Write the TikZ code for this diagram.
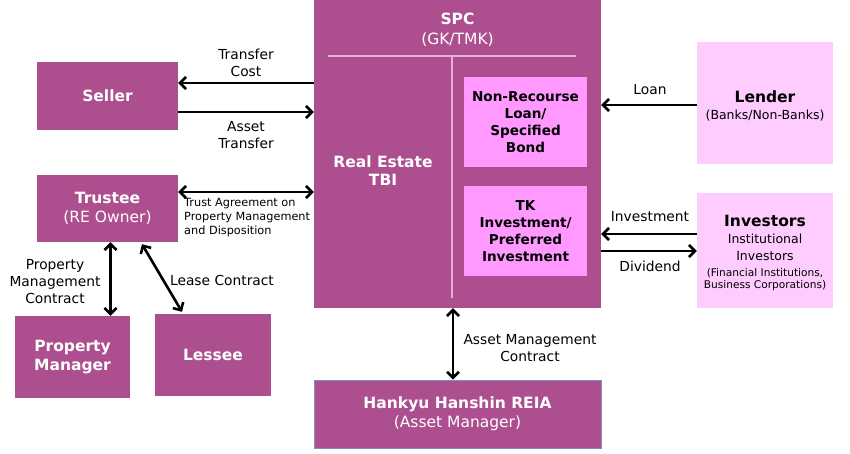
\documentclass[tikz,border=0pt]{standalone}
\usepackage{fontspec}
\setmainfont{DejaVu Sans}
\usetikzlibrary{arrows.meta}
\newcommand{\fsz}[2]{\fontsize{#1}{#2}\selectfont}
\definecolor{plum}{HTML}{AD4F8F}
\definecolor{mag}{HTML}{FF99FF}
\definecolor{pinkl}{HTML}{FFCCFF}
\definecolor{divl}{HTML}{E3B0D3}
\definecolor{hkborder}{HTML}{7F8FC0}
\begin{document}
\begin{tikzpicture}[x=1pt,y=1pt,
  box/.style={rectangle, fill=plum, text=white, inner sep=0pt, align=center, font=\fsz{15.5}{19}},
  lbox/.style={box, fill=mag, text=black, font=\bfseries\fsz{13.6}{17}, minimum width=123pt, minimum height=90pt},
  pbox/.style={box, fill=pinkl, text=black, minimum width=136pt},
  lab/.style={align=center, font=\fsz{13.8}{17}, inner sep=0pt},
  >={Straight Barb[length=6pt,width=12pt]},
  conn/.style={line width=2.6pt}]
\useasboundingbox (0,0) rectangle (850,-454);

% boxes
\node[box, minimum width=141pt, minimum height=68pt] (seller) at (107.5,-96) {\textbf{Seller}};
\node[box, minimum width=141pt, minimum height=67pt] (trustee) at (107.5,-208.5) {\textbf{Trustee}\\(RE Owner)};
\node[box, minimum width=287pt, minimum height=308pt] (spc) at (457.5,-154) {};
\node[box, minimum width=115pt, minimum height=82pt] (pm) at (72.5,-357) {\textbf{Property}\\\textbf{Manager}};
\node[box, minimum width=116pt, minimum height=82pt] (lessee) at (213,-355) {\textbf{Lessee}};
\node[box, draw=hkborder, line width=0.8pt, minimum width=287pt, minimum height=68pt] (hankyu) at (457.5,-414) {\textbf{Hankyu Hanshin REIA}\\(Asset Manager)};

% inside SPC
\node[text=white, align=center, font=\fsz{15.5}{20}, inner sep=0pt] (spct) at (457.5,-30) {\textbf{SPC}\\(GK/TMK)};
\draw[divl, line width=1.2pt] (328,-56) -- (576,-56);
\draw[divl, line width=1.2pt] (452,-56) -- (452,-298);
\node[text=white, align=center, font=\bfseries\fsz{15.5}{18}, inner sep=0pt] (tbi) at (383,-171) {Real Estate\\TBI};
\node[lbox] (nrl) at (525.5,-122) {Non-Recourse\\Loan/\\Specified\\Bond};
\node[lbox] (tk) at (525.5,-231) {TK\\Investment/\\Preferred\\Investment};

% right boxes
\node[pbox, minimum height=122pt] (lender) at (765,-103) {};
\node[align=center, inner sep=0pt, font=\fsz{12.5}{17}] (lendert) at ([yshift=-3pt]lender.center) {{\bfseries\fsz{15.5}{18}Lender}\\[-0.5pt]{\fsz{12.5}{15}(Banks/Non-Banks)}};
\node[pbox, minimum height=115pt] (investors) at (765,-250.5) {};
\node[align=center, inner sep=0pt, font=\fsz{12.5}{16.5}] (investorst) at ([yshift=-2pt]investors.center) {{\bfseries\fsz{15.5}{18}Investors}\\[1pt]{Institutional}\\{Investors}\\[-0.5pt]{\fsz{10.6}{12}(Financial Institutions,}\\[-4.5pt]{\fsz{10.6}{12}Business Corporations)}};

% connectors
\path ([yshift=13pt]seller.east) coordinate (tcS);
\draw[conn,->] (tcS -| spc.west) -- (tcS);
\path ([yshift=-16pt]seller.east) coordinate (atS);
\draw[conn,->] (atS) -- (atS -| spc.west);
\path ([yshift=16.5pt]trustee.east) coordinate (taS);
\draw[conn,<->] (taS) -- (taS -| spc.west);
\path ([xshift=3pt]trustee.south) coordinate (pmT);
\draw[conn,<->] (pmT) -- (pmT |- pm.north);
\draw[conn,<->] ([xshift=34.5pt,yshift=-2pt]trustee.south) -- ([xshift=-31pt,yshift=2pt]lessee.north);
\path ([yshift=-2pt]lender.west) coordinate (lnL);
\draw[conn,->] (lnL) -- (lnL -| spc.east);
\path ([yshift=16.5pt]investors.west) coordinate (ivL);
\draw[conn,->] (ivL) -- (ivL -| spc.east);
\path ([yshift=-0.5pt]investors.west) coordinate (dvL);
\draw[conn,->] (dvL -| spc.east) -- (dvL);
\path ([xshift=-4.5pt]spc.south) coordinate (amS);
\draw[conn,<->] (amS) -- (amS |- hankyu.north);

% labels
\node[lab] (ltc) at (246,-63) {Transfer\\Cost};
\node[lab] (lat) at (246,-135) {Asset\\Transfer};
\node[lab, font=\fsz{11.3}{14}, align=left, anchor=north west] (lta) at (184,-198) {Trust Agreement on\\Property Management\\and Disposition};
\node[lab] (lpm) at (55,-282) {Property\\Management\\Contract};
\node[lab] (lle) at (222,-280) {Lease Contract};
\node[lab] (llo) at (650,-90) {Loan};
\node[lab] (liv) at (650,-217) {Investment};
\node[lab] (ldv) at (650,-266) {Dividend};
\node[lab] (lam) at (530,-348) {Asset Management\\Contract};
\end{tikzpicture}
\end{document}
